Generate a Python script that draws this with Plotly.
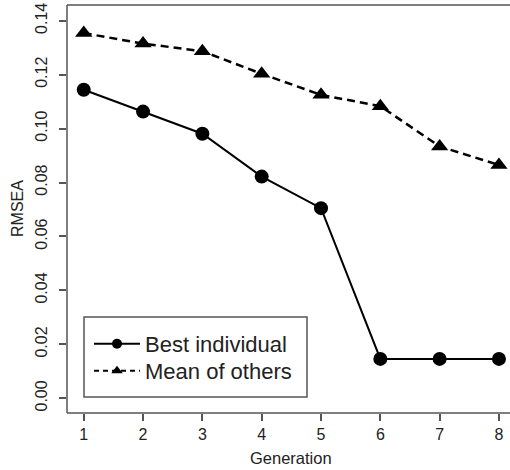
import plotly.graph_objects as go

generation = [1, 2, 3, 4, 5, 6, 7, 8]
best_individual = [0.1144, 0.1063, 0.0981, 0.0822, 0.0705, 0.0146, 0.0146, 0.0146]
mean_of_others = [0.1354, 0.1315, 0.1287, 0.1203, 0.1125, 0.1083, 0.0934, 0.0865]
y_ticks = [0.00, 0.02, 0.04, 0.06, 0.08, 0.10, 0.12, 0.14]
y_tick_labels = ["0.00", "0.02", "0.04", "0.06", "0.08", "0.10", "0.12", "0.14"]
series_names = ["Best individual", "Mean of others"]

FONT = "Liberation Sans, Arial, Helvetica, sans-serif"
AXC = "#555555"
TXT = "#222222"

W, H = 510, 470
ML, MR, MT, MB = 67, 0, 5, 57
PW, PH = W - ML - MR, H - MT - MB


def px_x(p):
    return (p - ML) / PW


def px_y(p):
    return (H - MB - p) / PH


line_best = dict(color="black", width=2)
line_mean = dict(color="black", width=2.5, dash="8px,5px")

fig = go.Figure()
fig.add_trace(go.Scatter(
    x=generation, y=best_individual, name=series_names[0],
    mode="lines+markers", line=line_best,
    marker=dict(symbol="circle", size=14, color="black"),
    showlegend=False, hoverinfo="skip",
))
fig.add_trace(go.Scatter(
    x=generation, y=mean_of_others, name=series_names[1],
    mode="lines+markers", line=line_mean,
    marker=dict(symbol="triangle-up", size=15, color="black"),
    showlegend=False, hoverinfo="skip",
))
# legend keys (no data drawn)
fig.add_trace(go.Scatter(
    x=[None], y=[None], name=series_names[0], mode="lines+markers",
    line=dict(color="black", width=2),
    marker=dict(symbol="circle", size=10, color="black"),
    legend="legend",
))
fig.add_trace(go.Scatter(
    x=[None], y=[None], name=series_names[1], mode="lines+markers",
    line=dict(color="black", width=2, dash="5px,4px"),
    marker=dict(symbol="triangle-up", size=10, color="black"),
    legend="legend2",
))

# box: left, bottom, top (right side cropped in reference)
for x0, y0, x1, y1 in [(0, 0, 0, 1), (0, 0, 1, 0), (0, 1, 1, 1)]:
    fig.add_shape(type="line", xref="paper", yref="paper", x0=x0, y0=y0, x1=x1, y1=y1,
                  line=dict(color=AXC, width=1.5), layer="above")

# legend frame
fig.add_shape(type="rect", xref="paper", yref="paper",
              x0=px_x(84), x1=px_x(307), y0=px_y(397), y1=px_y(317),
              line=dict(color=AXC, width=1.5), fillcolor="white", layer="above")

fig.add_annotation(text="Generation", xref="paper", yref="paper",
                   x=px_x(291), y=px_y(458), xanchor="center", yanchor="middle",
                   showarrow=False, font=dict(size=16.5, color=TXT))
fig.add_annotation(text="RMSEA", xref="paper", yref="paper",
                   x=px_x(17), y=px_y(209), xanchor="center", yanchor="middle",
                   textangle=-90, showarrow=False, font=dict(size=16, color=TXT))

leg_common = dict(
    xanchor="left", yanchor="middle",
    borderwidth=0, bgcolor="rgba(0,0,0,0)",
    font=dict(size=22, color=TXT, family=FONT),
    itemsizing="trace", itemwidth=46,
)

fig.update_layout(
    width=W, height=H,
    margin=dict(l=ML, r=MR, t=MT, b=MB),
    paper_bgcolor="white", plot_bgcolor="white",
    font=dict(family=FONT, size=16, color=TXT),
    showlegend=True,
    hovermode=False,
    legend=dict(x=px_x(89), y=px_y(344), **leg_common),
    legend2=dict(x=px_x(89), y=px_y(371), **leg_common),
    xaxis=dict(
        range=[0.718, 8.186], tickmode="array", tickvals=generation,
        ticktext=[str(g) for g in generation],
        ticks="outside", ticklen=7, tickwidth=1.5, tickcolor=AXC,
        showgrid=False, zeroline=False, showline=False, automargin=False,
        tickfont=dict(size=16, color=TXT),
    ),
    yaxis=dict(
        range=[-0.00545, 0.14582], tickmode="array", tickvals=y_ticks, ticktext=y_tick_labels,
        ticks="outside", ticklen=7, tickwidth=1.5, tickcolor=AXC,
        showgrid=False, zeroline=False, showline=False, automargin=False,
        tickangle=-90, ticklabelstandoff=6,
        tickfont=dict(size=16, color=TXT),
    ),
)

fig.write_html("out.html", config={"displayModeBar": False},
               post_script="document.body.style.margin='0';")
